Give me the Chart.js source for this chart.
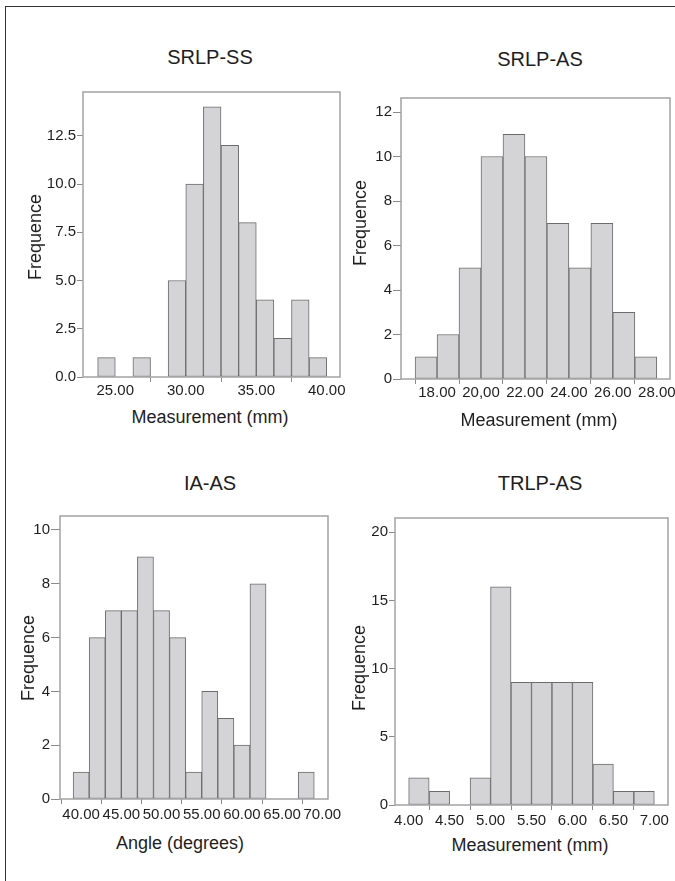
<!DOCTYPE html>
<html>
<head>
<meta charset="utf-8">
<script src="https://cdn.jsdelivr.net/npm/chart.js@4.4.1/dist/chart.umd.min.js"></script>
<style>
  body { margin: 0; width: 675px; height: 881px; overflow: hidden; background: #fff; position: relative;
         font-family: "Liberation Sans", Arial, sans-serif; }
  .outer { position: absolute; left: 5px; top: 6px; width: 720px; height: 900px;
           border-left: 1.5px solid #333; border-top: 1.5px solid #333; }
  canvas { position: absolute; }
  .lbl { position: absolute; transform: translate(-50%, -50%); white-space: nowrap; color: #1e1e1e; line-height: 1; }
  .t { font-size: 20px; }
  .a { font-size: 18px; }
  .rot { transform: translate(-50%, -50%) rotate(-90deg); }
</style>
</head>
<body>
<div class="outer"></div>

<canvas id="c1"></canvas>
<canvas id="c2"></canvas>
<canvas id="c3"></canvas>
<canvas id="c4"></canvas>

<div class="lbl t" style="left:210px;top:57px">SRLP-SS</div>
<div class="lbl t" style="left:540px;top:59px">SRLP-AS</div>
<div class="lbl t" style="left:210px;top:483px">IA-AS</div>
<div class="lbl t" style="left:540px;top:483px">TRLP-AS</div>

<div class="lbl a" style="left:210px;top:417px">Measurement (mm)</div>
<div class="lbl a" style="left:539px;top:420px">Measurement (mm)</div>
<div class="lbl a" style="left:180px;top:843px">Angle (degrees)</div>
<div class="lbl a" style="left:530px;top:845px">Measurement (mm)</div>

<div class="lbl a rot" style="left:35px;top:237px">Frequence</div>
<div class="lbl a rot" style="left:360px;top:223px">Frequence</div>
<div class="lbl a rot" style="left:28px;top:658px">Frequence</div>
<div class="lbl a rot" style="left:359px;top:668px">Frequence</div>

<script>
// SRLP-SS (mm), bins of 1.25
const ssBinStart = [23.75, 25, 26.25, 27.5, 28.75, 30, 31.25, 32.5, 33.75, 35, 36.25, 37.5, 38.75];
const ssCounts   = [1, 0, 1, 0, 5, 10, 14, 12, 8, 4, 2, 4, 1];
const ssXTicks   = [25, 30, 35, 40];
const ssXLabels  = ["25.00", "30.00", "35.00", "40.00"];
const ssYTicks   = [0, 2.5, 5, 7.5, 10, 12.5];
const ssYLabels  = ["0.0", "2.5", "5.0", "7.5", "10.0", "12.5"];

// SRLP-AS (mm), bins of 1
const asBinStart = [17, 18, 19, 20, 21, 22, 23, 24, 25, 26, 27];
const asCounts   = [1, 2, 5, 10, 11, 10, 7, 5, 7, 3, 1];
const asXTicks   = [18, 20, 22, 24, 26, 28];
const asXLabels  = ["18.00", "20,00", "22.00", "24.00", "26.00", "28.00"];
const asYTicks   = [0, 2, 4, 6, 8, 10, 12];
const asYLabels  = ["0", "2", "4", "6", "8", "10", "12"];

// IA-AS (degrees), bins of 2
const iaBinStart = [39, 41, 43, 45, 47, 49, 51, 53, 55, 57, 59, 61, 63, 65, 67];
const iaCounts   = [1, 6, 7, 7, 9, 7, 6, 1, 4, 3, 2, 8, 0, 0, 1];
const iaXTicks   = [40, 45, 50, 55, 60, 65, 70];
const iaXLabels  = ["40.00", "45.00", "50.00", "55.00", "60.00", "65.00", "70.00"];
const iaYTicks   = [0, 2, 4, 6, 8, 10];
const iaYLabels  = ["0", "2", "4", "6", "8", "10"];

// TRLP-AS (mm), bins of 0.25
const trBinStart = [4, 4.25, 4.5, 4.75, 5, 5.25, 5.5, 5.75, 6, 6.25, 6.5, 6.75];
const trCounts   = [2, 1, 0, 2, 16, 9, 9, 9, 9, 3, 1, 1];
const trXTicks   = [4, 4.5, 5, 5.5, 6, 6.5, 7];
const trXLabels  = ["4.00", "4.50", "5.00", "5.50", "6.00", "6.50", "7.00"];
const trYTicks   = [0, 5, 10, 15, 20];
const trYLabels  = ["0", "5", "10", "15", "20"];

const FONT = "'Liberation Sans', Arial, sans-serif";
const Y_W = 45, X_H = 30, PAD_T = 10, PAD_R = 20;

const framePlugin = {
  id: "frame",
  afterDatasetsDraw(chart) {
    const a = chart.chartArea, ctx = chart.ctx;
    ctx.save();
    ctx.strokeStyle = "#a2a2a2";
    ctx.lineWidth = 1.5;
    ctx.strokeRect(a.left, a.top, a.right - a.left, a.bottom - a.top);
    ctx.restore();
  }
};

function histogram(id, box, bins, binW, counts, xTicks, xLabels, yTicks, yLabels, xMin, xMax, yMax, yTickLen, xPad) {
  const cv = document.getElementById(id);
  cv.width = box.R - box.L + Y_W + PAD_R;
  cv.height = box.B - box.T + PAD_T + X_H;
  cv.style.left = (box.L - Y_W) + "px";
  cv.style.top = (box.T - PAD_T) + "px";

  return new Chart(cv, {
    type: "bar",
    data: {
      datasets: [{
        data: bins.map((b, i) => ({ x: b + binW / 2, y: counts[i] })),
        backgroundColor: "#d4d4d6",
        borderColor: "#6c6c6c",
        borderWidth: 1,
        borderSkipped: false,
        barPercentage: 1,
        categoryPercentage: 1
      }]
    },
    options: {
      responsive: false,
      animation: false,
      layout: { padding: { top: PAD_T, right: PAD_R, left: 0, bottom: 0 } },
      plugins: { legend: { display: false }, tooltip: { enabled: false } },
      scales: {
        x: {
          type: "linear",
          min: xMin,
          max: xMax,
          offset: false,
          afterBuildTicks: s => { s.ticks = xTicks.map(v => ({ value: v })); },
          afterFit: s => { s.height = X_H; s.paddingLeft = 0; s.paddingRight = 0; },
          ticks: {
            autoSkip: false, maxRotation: 0, padding: xPad, color: "#1e1e1e",
            font: { size: 15, family: FONT },
            callback: (v, i) => xLabels[i]
          },
          grid: { drawOnChartArea: false, drawTicks: true, tickLength: 5, color: "#8a8a8a" },
          border: { display: false }
        },
        y: {
          min: 0,
          max: yMax,
          afterBuildTicks: s => { s.ticks = yTicks.map(v => ({ value: v })); },
          afterFit: s => { s.width = Y_W; },
          ticks: {
            padding: 1, color: "#1e1e1e",
            font: { size: 15, family: FONT },
            callback: (v, i) => yLabels[i]
          },
          grid: { drawOnChartArea: false, drawTicks: true, tickLength: yTickLen, color: "#8a8a8a" },
          border: { display: false }
        }
      }
    },
    plugins: [framePlugin]
  });
}

histogram("c1", { L: 83, R: 340, T: 92, B: 377 }, ssBinStart, 1.25, ssCounts,
  ssXTicks, ssXLabels, ssYTicks, ssYLabels, 22.71, 40.94, 14.77, 6, 0);
histogram("c2", { L: 401, R: 670, T: 98, B: 379 }, asBinStart, 1, asCounts,
  asXTicks, asXLabels, asYTicks, asYLabels, 16.36, 28.6, 12.63, 8, 0);
histogram("c3", { L: 60, R: 328, T: 516, B: 799 }, iaBinStart, 2, iaCounts,
  iaXTicks, iaXLabels, iaYTicks, iaYLabels, 37.37, 70.71, 10.52, 9, 2);
histogram("c4", { L: 395, R: 668, T: 518, B: 805 }, trBinStart, 0.25, trCounts,
  trXTicks, trXLabels, trYTicks, trYLabels, 3.833, 7.167, 21.05, 6, 2);
</script>
</body>
</html>
